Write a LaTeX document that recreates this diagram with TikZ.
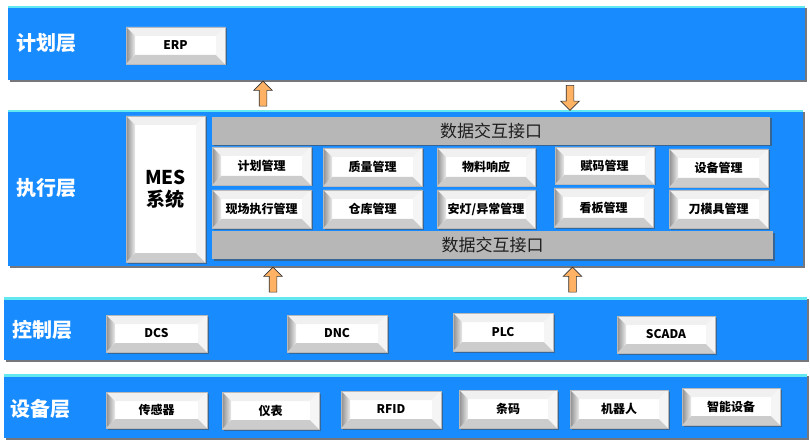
\documentclass[tikz,border=0pt]{standalone}
\usepackage{fontspec}
\setmainfont{Noto Sans CJK SC}
\usetikzlibrary{shapes.arrows,shadows}
\definecolor{bandblue}{RGB}{24,140,255}
\definecolor{bandtop}{RGB}{100,232,240}
\definecolor{bandshadow}{RGB}{60,60,70}
\definecolor{arroworange}{RGB}{255,178,100}
\definecolor{bargray}{RGB}{183,183,183}
\definecolor{bartext}{RGB}{30,30,30}
\tikzset{
  x=1pt, y=-1pt,
  band/.style={fill=bandblue, draw=none},
  layerlabel/.style={anchor=west, text=white, font=\bfseries\fontsize{20}{20}\selectfont, inner sep=0},
  mod/.style={fill=white, draw=gray!55, line width=0.4pt, inner sep=0,
    minimum width=99pt, minimum height=37pt,
    font=\bfseries\fontsize{12}{12}\selectfont, text=black,
    drop shadow={shadow xshift=1.5pt, shadow yshift=-1.5pt, opacity=0.55, fill=black!70},
    path picture={
      \def\bw{9pt}
      \fill[black!6] (path picture bounding box.north west) -- (path picture bounding box.north east)
        -- ([xshift=-\bw,yshift=-\bw]path picture bounding box.north east)
        -- ([xshift=\bw,yshift=-\bw]path picture bounding box.north west) -- cycle;
      \fill[black!20] (path picture bounding box.south west) -- (path picture bounding box.south east)
        -- ([xshift=-\bw,yshift=\bw]path picture bounding box.south east)
        -- ([xshift=\bw,yshift=\bw]path picture bounding box.south west) -- cycle;
      \fill[black!4] (path picture bounding box.north east) -- (path picture bounding box.south east)
        -- ([xshift=-\bw,yshift=\bw]path picture bounding box.south east)
        -- ([xshift=-\bw,yshift=-\bw]path picture bounding box.north east) -- cycle;
      \shade[left color=black!45, right color=black!8] (path picture bounding box.south west) -- (path picture bounding box.north west)
        -- ([xshift=\bw,yshift=-\bw]path picture bounding box.north west)
        -- ([xshift=\bw,yshift=\bw]path picture bounding box.south west) -- cycle;
    }},
  bar/.style={fill=bargray, draw=none, inner sep=0, minimum height=28pt,
    font=\fontsize{17}{17}\selectfont, text=bartext,
    drop shadow={shadow xshift=1.5pt, shadow yshift=-1.5pt, opacity=0.6, fill=black!70}},
  barrow/.style={single arrow, draw=black!80, line width=0.6pt, fill=arroworange,
    inner sep=3.5pt, single arrow head extend=5.5pt, single arrow tip angle=90,
    minimum height=25pt, anchor=center}
}
\begin{document}
\begin{tikzpicture}
\useasboundingbox (0,0) rectangle (810,446);
% bands with shadows
\foreach \xa/\ya/\xb/\yb in {8/6/805/80, 8/110/803/266, 4/297/807/360, 4/374/807/438}{
  \fill[bandshadow, opacity=0.7] (\xa+2,\ya+2) rectangle (\xb+2,\yb+2);
  \fill[bandblue] (\xa,\ya) rectangle (\xb,\yb);
  \fill[bandtop] (\xa,\ya) rectangle (\xb,\ya+2.5);
}
% layer labels
\node[layerlabel] (lplan) at (16,43) {计划层};
\node[layerlabel] (lexec) at (16,188) {执行层};
\node[layerlabel] (lctrl) at (12,330) {控制层};
\node[layerlabel] (ldev) at (10,409) {设备层};
% plan layer
\node[mod] (erp) at (175.5,45.5) {ERP};
% execution layer
\node[mod, minimum width=79pt, minimum height=146pt, font=\bfseries\fontsize{19}{22}\selectfont, align=center] (mes) at (165.5,189) {MES\\系统};
\node[bar, minimum width=558pt] (bartop) at (491,131) {数据交互接口};
\node[bar, minimum width=561pt] (barbot) at (492.5,245) {数据交互接口};
\node[mod, minimum height=38pt] (m1) at (261.5,166) {计划管理};
\node[mod, minimum height=38pt] (m2) at (372.5,167) {质量管理};
\node[mod, minimum width=98pt, minimum height=38pt] (m3) at (486,167) {物料响应};
\node[mod] (m4) at (604.5,165.5) {赋码管理};
\node[mod, minimum height=38pt] (m5) at (718.5,168) {设备管理};
\node[mod, minimum height=38pt] (m6) at (261.5,209) {现场执行管理};
\node[mod, minimum height=38pt] (m7) at (372.5,209) {仓库管理};
\node[mod, minimum width=98pt, minimum height=38pt] (m8) at (486,209) {安灯/异常管理};
\node[mod, minimum height=39pt] (m9) at (603.5,207.5) {看板管理};
\node[mod, minimum height=38pt] (m10) at (718.5,209) {刀模具管理};
% control layer
\node[mod, minimum width=101pt] (dcs) at (156.5,333.5) {DCS};
\node[mod, minimum width=100pt] (dnc) at (337,333.5) {DNC};
\node[mod, minimum width=100pt, minimum height=38pt] (plc) at (503,332) {PLC};
\node[mod, minimum width=98pt] (scada) at (666,334.5) {SCADA};
% device layer
\node[mod, minimum width=101pt, minimum height=36pt] (d1) at (156.5,410) {传感器};
\node[mod, minimum width=97pt] (d2) at (270.5,410.5) {仪表};
\node[mod, minimum width=100pt] (d3) at (391,409.5) {RFID};
\node[mod, minimum width=98pt, minimum height=38pt] (d4) at (508,409) {条码};
\node[mod, minimum width=98pt, minimum height=38pt] (d5) at (619,409) {机器人};
\node[mod, minimum width=98pt] (d6) at (731,406.5) {智能设备};
% block arrows between layers
\node[barrow, shape border rotate=90] (a1) at (263,95.5) {};
\node[barrow, shape border rotate=270] (a2) at (570,96) {};
\node[barrow, shape border rotate=90] (a3) at (273,281.5) {};
\node[barrow, shape border rotate=90] (a4) at (572.5,281.5) {};
\end{tikzpicture}
\end{document}
